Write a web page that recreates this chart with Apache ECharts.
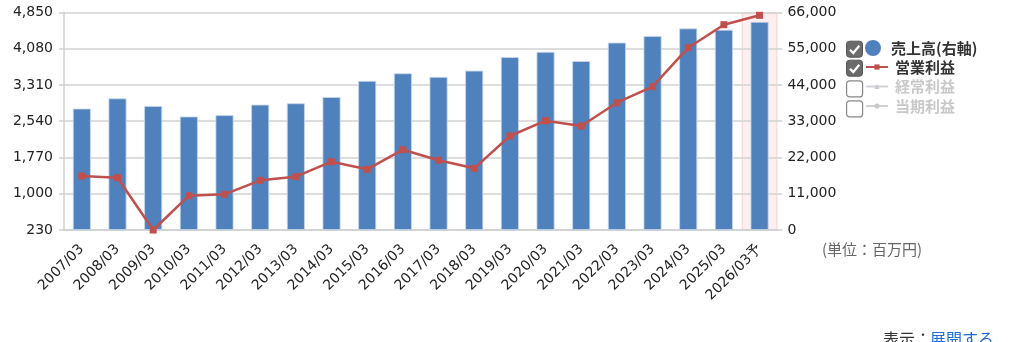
<!DOCTYPE html>
<html><head><meta charset="utf-8">
<script src="https://cdn.jsdelivr.net/npm/echarts@6/dist/echarts.min.js"></script>
<style>html,body{margin:0;padding:0;background:#fff}#c{width:1024px;height:342px}</style>
</head><body><div id="c"></div>
<script>
const categories = ['2007/03','2008/03','2009/03','2010/03','2011/03','2012/03','2013/03','2014/03','2015/03','2016/03','2017/03','2018/03','2019/03','2020/03','2021/03','2022/03','2023/03','2024/03','2025/03','2026/03予'];
const sales = [36800,39900,37600,34400,34800,38000,38400,40300,45200,47500,46400,48300,52400,54000,51200,56800,58800,61100,60700,63100];
const operatingProfit = [1376,1340,230,958,987,1284,1361,1679,1518,1934,1709,1539,2225,2550,2437,2931,3271,4099,4587,4786];
const ordinaryProfit = [];
const netProfit = [];
const leftTicks = {min:230, max:4850, interval:770};
const rightTicks = {min:0, max:66000, interval:11000};

const forecastBand = categories.map(c => c.endsWith('予') ? rightTicks.max : null);
const numFont = 'DejaVu Sans';
const jpFont = '"Noto Sans CJK JP", sans-serif';
const fmt = v => v.toLocaleString('en-US');

function checkbox(y, checked){
  const children = [{type:'rect', shape:{x:0,y:0,width:16,height:16,r:3},
    style: checked ? {fill:'#6b6b6b', stroke:'#555', lineWidth:1} : {fill:'#fff', stroke:'#888', lineWidth:1.2}}];
  if (checked) children.push({type:'polyline', shape:{points:[[3.5,8.5],[6.8,11.8],[12.8,4.5]]},
    style:{stroke:'#fff', lineWidth:2.2, fill:null}});
  return {type:'group', left:846, top:y, children};
}

const legendText = {fontFamily:jpFont, fontSize:15, fontWeight:'bold', color:'#333', padding:[0,0,0,2]};

const chart = echarts.init(document.getElementById('c'), null, {renderer:'canvas'});
chart.setOption({
  animation:false,
  grid:{left:64, right:246.6, top:12.3, bottom:112, containLabel:false},
  legend:[{
    orient:'vertical', left:865, top:40, padding:0, itemWidth:22, itemHeight:16, itemGap:4,
    textStyle:legendText, inactiveColor:'#c8c8c8',
    itemStyle:{borderWidth:0},
    data:[{name:'売上高(右軸)', icon:'circle'}]
  },{
    orient:'vertical', left:865, top:59.5, padding:0, itemWidth:22, itemHeight:6.5, itemGap:4.5,
    textStyle:legendText, inactiveColor:'#c8c8c8',
    data:['営業利益', '経常利益', '当期利益'],
    selected:{'経常利益':false,'当期利益':false}
  }],
  xAxis:[{
    type:'category', data:categories, boundaryGap:true,
    axisLine:{lineStyle:{color:'#cfcfcf', width:1.5}},
    axisTick:{inside:true, length:9, lineStyle:{color:'#cfcfcf', width:1.5}},
    axisLabel:{interval:0, rotate:45, margin:17, fontFamily:numFont, fontSize:14, color:'#222'}
  },{
    type:'category', data:categories, show:false
  }],
  yAxis:[{
    type:'value', position:'left', min:leftTicks.min, max:leftTicks.max, interval:leftTicks.interval,
    axisLine:{show:true, lineStyle:{color:'#cfcfcf', width:1.5}},
    axisTick:{show:true, length:5, lineStyle:{color:'#cfcfcf', width:1.5}},
    axisLabel:{margin:11, fontFamily:numFont, fontSize:14, color:'#222', formatter:fmt},
    splitLine:{show:true, lineStyle:{color:'#d2d2d2', width:1.5}}
  },{
    type:'value', position:'right', min:rightTicks.min, max:rightTicks.max, interval:rightTicks.interval,
    axisLine:{show:false},
    axisTick:{show:true, length:5, lineStyle:{color:'#cfcfcf', width:1.5}},
    axisLabel:{margin:10, fontFamily:numFont, fontSize:14, color:'#222', formatter:fmt},
    splitLine:{show:false}
  }],
  series:[
    {name:'band', type:'bar', xAxisIndex:1, yAxisIndex:1, data:forecastBand, barWidth:'100%', silent:true, z:-1,
      itemStyle:{color:'#fdefef', borderColor:'#f7d2d2', borderWidth:1}},
    {name:'売上高(右軸)', type:'bar', yAxisIndex:1, data:sales, barWidth:18,
      itemStyle:{color:'#4f81bd', borderColor:'#c9d8ec', borderWidth:0.8}},
    {name:'営業利益', type:'line', yAxisIndex:0, data:operatingProfit, symbol:'rect', symbolSize:7,
      lineStyle:{color:'#c0504d', width:2.5}, itemStyle:{color:'#c0504d'}, z:5},
    {name:'経常利益', type:'line', yAxisIndex:0, data:ordinaryProfit, symbol:'triangle', symbolSize:7,
      lineStyle:{color:'#9bbb59', width:2.5}, itemStyle:{color:'#9bbb59'}},
    {name:'当期利益', type:'line', yAxisIndex:0, data:netProfit, symbol:'circle', symbolSize:5,
      lineStyle:{color:'#8064a2', width:2.5}, itemStyle:{color:'#8064a2'}}
  ],
  graphic:[
    checkbox(40.7,true), checkbox(59.7,true), checkbox(80.3,false), checkbox(100.3,false),
    {type:'text', left:822, top:242, style:{text:'(単位：百万円)', fontFamily:jpFont, fontSize:15, fill:'#666'}},
    {type:'text', left:883, top:331, style:{text:'表示：', fontFamily:jpFont, fontSize:16, fill:'#333'}},
    {type:'text', left:930, top:331, style:{text:'展開する', fontFamily:jpFont, fontSize:16, fill:'#1e6bd6'}}
  ]
});
</script></body></html>
